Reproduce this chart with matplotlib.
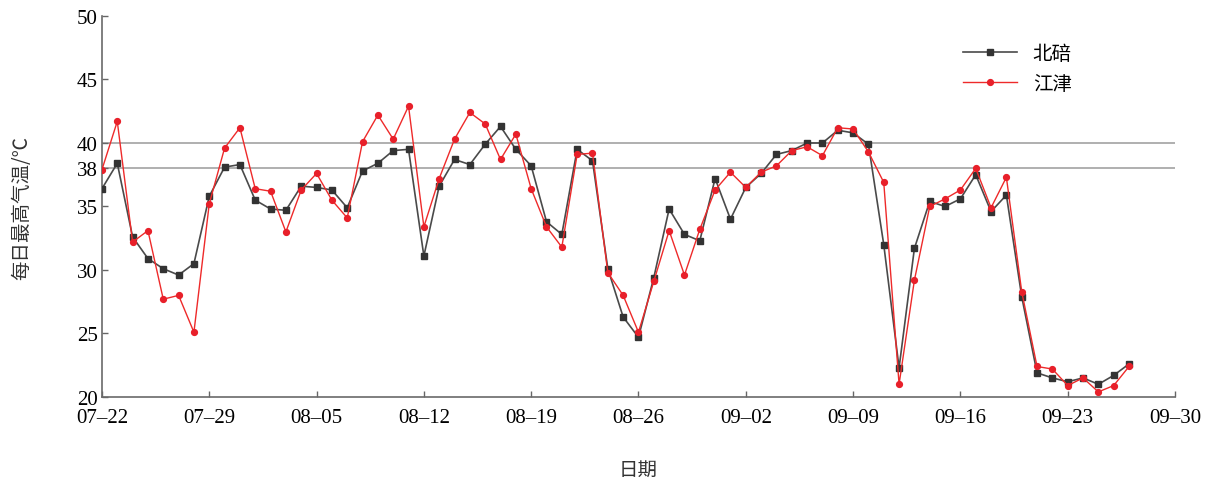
import matplotlib
matplotlib.use("Agg")
import matplotlib.pyplot as plt
import numpy as np

# Daily maximum temperature (°C), one value per day starting 07-22
beibei = [36.4, 38.4, 32.6, 30.9, 30.1, 29.6, 30.5, 35.8, 38.1, 38.3,
          35.5, 34.8, 34.7, 36.6, 36.5, 36.3, 34.9, 37.8, 38.4, 39.4,
          39.5, 31.1, 36.6, 38.7, 38.3, 39.9, 41.3, 39.5, 38.2, 33.8,
          32.8, 39.5, 38.6, 30.1, 26.3, 24.7, 29.4, 34.8, 32.8, 32.3,
          37.2, 34.0, 36.5, 37.6, 39.1, 39.4, 40.0, 40.0, 41.0, 40.8,
          39.9, 32.0, 22.3, 31.7, 35.4, 35.0, 35.6, 37.5, 34.6, 35.9,
          27.9, 21.9, 21.5, 21.2, 21.5, 21.0, 21.7, 22.6]
jiangjin = [37.9, 41.7, 32.2, 33.1, 27.7, 28.0, 25.1, 35.2, 39.6, 41.2,
            36.4, 36.2, 33.0, 36.3, 37.6, 35.5, 34.1, 40.1, 42.2, 40.3,
            42.9, 33.4, 37.2, 40.3, 42.4, 41.5, 38.7, 40.7, 36.4, 33.4,
            31.8, 39.1, 39.2, 29.8, 28.0, 25.1, 29.1, 33.1, 29.6, 33.2,
            36.3, 37.7, 36.5, 37.7, 38.2, 39.4, 39.7, 39.0, 41.2, 41.1,
            39.3, 36.9, 21.0, 29.2, 35.0, 35.6, 36.3, 38.0, 34.9, 37.3,
            28.3, 22.4, 22.2, 20.9, 21.5, 20.4, 20.9, 22.4]
date_labels = ["07–22", "07–29", "08–05", "08–12", "08–19", "08–26",
               "09–02", "09–09", "09–16", "09–23", "09–30"]
y_ticks = [20, 25, 30, 35, 38, 40, 45, 50]
threshold_lines = [40, 38]

cjk = ["Noto Sans CJK SC", "DejaVu Sans"]
serif = ["Liberation Serif", "DejaVu Serif"]

fig = plt.figure(figsize=(12.18, 4.81), dpi=100)
ax = fig.add_axes([0.0837, 0.1726, 0.8810, 0.7921])

days = np.arange(len(beibei))

for t in threshold_lines:
    ax.axhline(t, color="#9a9a9a", lw=1.1, zorder=1)

ax.plot(days, beibei, color="#4a4a4a", lw=1.2, marker="s", ms=3.8,
        mfc="#333333", mec="#333333", label="北碚", zorder=3)
ax.plot(days, jiangjin, color="#ee2a2a", lw=1.0, marker="o", ms=4.2,
        mfc="#e8202a", mec="#e8202a", label="江津", zorder=4)

ax.set_xlim(0, 70)
ax.set_ylim(20, 50)
ax.set_xticks(np.arange(0, 71, 7))
ax.set_xticklabels(date_labels, fontfamily=serif, fontsize=15)
ax.set_yticks(y_ticks)
ax.set_yticklabels([str(v) for v in y_ticks], fontfamily=serif, fontsize=15)

ax.tick_params(axis="x", direction="in", length=4, width=1,
               color="#666666", pad=8)
ax.tick_params(axis="y", direction="in", length=4, width=1,
               color="#666666", pad=3)

for side in ("top", "right"):
    ax.spines[side].set_visible(False)
for side in ("left", "bottom"):
    ax.spines[side].set_color("#6a6a6a")
    ax.spines[side].set_linewidth(1.2)

ax.set_ylabel("每日最高气温/℃", fontfamily=cjk, fontsize=14, labelpad=32,
              color="#333333")
ax.set_xlabel("日期", fontfamily=cjk, fontsize=14, labelpad=23,
              color="#333333")

leg = ax.legend(loc="upper right", bbox_to_anchor=(0.92, 0.975), frameon=False,
                prop={"family": cjk, "size": 14}, handlelength=2.8,
                labelspacing=0.45, handletextpad=0.8)

fig.savefig("out.png", dpi=100)
